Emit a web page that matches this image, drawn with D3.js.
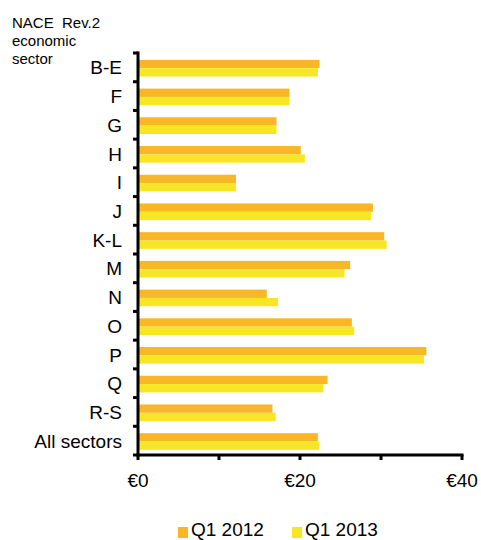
<!DOCTYPE html>
<html lang="en">
<head>
<meta charset="UTF-8"/>
<title>Hourly labour cost by NACE sector</title>
<script src="https://cdn.jsdelivr.net/npm/d3@7/dist/d3.min.js"></script>
<style>
  body { margin: 0; background: #fff; }
  svg text { font-family: "Liberation Sans", Arial, sans-serif; fill: #000; }
</style>
</head>
<body>
<div id="chart"></div>
<script>
var width = 481, height = 540;

// data
var sectors = ['B-E', 'F', 'G', 'H', 'I', 'J', 'K-L', 'M', 'N', 'O', 'P', 'Q', 'R-S', 'All sectors'];
var seriesNames = ['Q1 2012', 'Q1 2013'];
var q12012 = [22.4, 18.7, 17.1, 20.1, 12.1, 29.0, 30.4, 26.2, 15.9, 26.4, 35.6, 23.4, 16.6, 22.2];
var q12013 = [22.2, 18.7, 17.1, 20.6, 12.1, 28.8, 30.7, 25.5, 17.3, 26.7, 35.3, 22.9, 17.0, 22.4];
var xTicks = [0, 10, 20, 30, 40];
var xLabels = [0, 20, 40];
var colors = ['#F9B626', '#F6E626'];

var svg = d3.select('#chart').append('svg')
  .attr('width', width)
  .attr('height', height);

var x = d3.scaleLinear().domain([0, 40]).range([138, 462]);
var y = d3.scaleBand().domain(sectors).range([53, 455]);
var ySub = d3.scaleBand().domain(seriesNames)
  .range([y.bandwidth() * 0.24, y.bandwidth() * 0.82]);

var rows = sectors.map(function(s, i) {
  return { name: s, vals: [q12012[i], q12013[i]] };
});

// bars
var g = svg.selectAll('g.row').data(rows).enter().append('g')
  .attr('class', 'row')
  .attr('transform', function(d) { return 'translate(0,' + y(d.name) + ')'; });

g.selectAll('rect').data(function(d) {
    return d.vals.map(function(v, j) { return { s: seriesNames[j], v: v, j: j }; });
  }).enter().append('rect')
  .attr('x', x(0))
  .attr('y', function(d) { return ySub(d.s); })
  .attr('width', function(d) { return x(d.v) - x(0); })
  .attr('height', ySub.bandwidth())
  .attr('fill', function(d) { return colors[d.j]; });

// y axis: ticks on the band edges
var edges = sectors.map(function(s) { return y(s); }).concat([y.range()[1]]);
svg.selectAll('line.ytick').data(edges).enter().append('line')
  .attr('x1', x(0) - 5).attr('x2', x(0))
  .attr('y1', function(d) { return d; }).attr('y2', function(d) { return d; })
  .attr('stroke', '#000').attr('stroke-width', 3);

svg.append('line')
  .attr('x1', x(0)).attr('x2', x(0))
  .attr('y1', y.range()[0] - 1.5).attr('y2', y.range()[1] + 1.5)
  .attr('stroke', '#000').attr('stroke-width', 3);

svg.selectAll('text.ylab').data(sectors).enter().append('text')
  .attr('x', 122)
  .attr('y', function(d) { return y(d) + y.bandwidth() / 2; })
  .attr('dy', '0.37em')
  .attr('text-anchor', 'end')
  .style('font-size', '19px')
  .text(function(d) { return d; });

// x axis
var y0 = y.range()[1];
svg.append('line')
  .attr('x1', x(0) - 1.5).attr('x2', x(40) + 1.5)
  .attr('y1', y0).attr('y2', y0)
  .attr('stroke', '#000').attr('stroke-width', 3);

svg.selectAll('line.xtick').data(xTicks).enter().append('line')
  .attr('x1', function(d) { return x(d); }).attr('x2', function(d) { return x(d); })
  .attr('y1', y0).attr('y2', y0 + 5)
  .attr('stroke', '#000').attr('stroke-width', 3);

svg.selectAll('text.xlab').data(xLabels).enter().append('text')
  .attr('x', function(d) { return x(d); })
  .attr('y', 487)
  .attr('text-anchor', 'middle')
  .style('font-size', '19px')
  .text(function(d) { return '€' + d; });

// title of the category axis
var title = ['NACE  Rev.2', 'economic', 'sector'];
svg.selectAll('text.title').data(title).enter().append('text')
  .attr('x', 12)
  .attr('y', function(d, i) { return 28 + i * 18; })
  .style('font-size', '15px')
  .attr('xml:space', 'preserve')
  .text(function(d) { return d; });

// legend
var legX = [178, 292];
var leg = svg.selectAll('g.leg').data(seriesNames).enter().append('g')
  .attr('transform', function(d, i) { return 'translate(' + legX[i] + ',0)'; });
leg.append('rect')
  .attr('x', 0).attr('y', 527)
  .attr('width', 10).attr('height', 11)
  .attr('fill', function(d, i) { return colors[i]; });
leg.append('text')
  .attr('x', 13).attr('y', 536)
  .style('font-size', '19px')
  .text(function(d) { return d; });
</script>
</body>
</html>
